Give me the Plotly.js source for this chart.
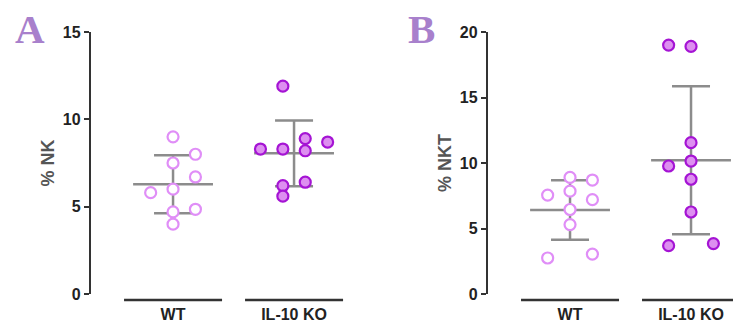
<!DOCTYPE html>
<html>
<head>
<meta charset="utf-8">
<script src="https://cdn.plot.ly/plotly-3.0.1.min.js"></script>
<style>html,body{margin:0;padding:0;background:#fff;}#chart{width:733px;height:326px;}</style>
</head>
<body>
<div id="chart"></div>
<script>
// ---- data ----
var groups = ['WT', 'IL-10 KO'];

// Panel A: % NK
var nkWT = [9.0, 8.0, 7.5, 6.7, 6.0, 5.8, 4.85, 4.7, 4.0];
var nkWTslot = [0, 1, 0, 1, 0, -1, 1, 0, 0];
var nkKO = [11.9, 8.9, 8.7, 8.3, 8.3, 8.2, 6.4, 6.2, 5.6];
var nkKOslot = [-0.5, 0.5, 1.5, -1.5, -0.5, 0.5, 0.5, -0.5, -0.5];

// Panel B: % NKT
var nktWT = [8.9, 8.7, 7.55, 7.85, 7.2, 6.45, 5.3, 3.05, 2.75];
var nktWTslot = [0, 1, -1, 0, 1, 0, 0, 1, -1];
var nktKO = [19.0, 18.9, 11.55, 10.15, 9.77, 8.76, 6.26, 3.69, 3.85];
var nktKOslot = [-1, 0, 0, 0, -1, 0, 0, -1, 1];

var yTicksA = [0, 5, 10, 15];
var yTicksB = [0, 5, 10, 15, 20];

// ---- styling ----
var SLOT = 0.185;
var WT_LINE = '#e08ef7';
var KO_FILL = '#dd8ff0';
var KO_LINE = '#a514d4';
var ERR = '#8c8c8c';
var AX = '#333333';
var FONT = 'Liberation Sans, Arial, sans-serif';

function mean(a){ return a.reduce(function(s,v){return s+v;},0)/a.length; }
function sd(a){ var m=mean(a); return Math.sqrt(a.reduce(function(s,v){return s+(v-m)*(v-m);},0)/(a.length-1)); }

function groupTraces(vals, slots, cat, xa, ya, filled){
  var m = mean(vals), s = sd(vals);
  var tr = [];
  tr.push({x:[cat-0.33, cat+0.33], y:[m, m], xaxis:xa, yaxis:ya, mode:'lines',
    line:{color:ERR, width:2.5}, hoverinfo:'skip', showlegend:false});
  tr.push({x:[cat], y:[m], xaxis:xa, yaxis:ya, mode:'markers', marker:{size:1, opacity:0},
    error_y:{type:'data', array:[s], visible:true, color:ERR, thickness:2.5, width:19},
    hoverinfo:'skip', showlegend:false});
  tr.push({x:slots.map(function(k){return cat + k*SLOT;}), y:vals, xaxis:xa, yaxis:ya, mode:'markers',
    cliponaxis:false, showlegend:false,
    marker:{size:11, color: filled ? KO_FILL : '#ffffff', line:{color: filled ? KO_LINE : WT_LINE, width:2.2}}});
  return tr;
}

var data = [].concat(
  groupTraces(nkWT, nkWTslot, 0, 'x', 'y', false),
  groupTraces(nkKO, nkKOslot, 1, 'x', 'y', true),
  groupTraces(nktWT, nktWTslot, 0, 'x2', 'y2', false),
  groupTraces(nktKO, nktKOslot, 1, 'x2', 'y2', true)
);

var W = 733, H = 326;
var yBot = 1 - 294/H, yTop = 1 - 32/H;

function xAxis(dom, rng){
  return {domain:dom, range:rng, showline:false, zeroline:false, showgrid:false,
    tickmode:'array', tickvals:[0,1], ticktext:groups, ticks:'outside', ticklen:0,
    tickcolor:'rgba(0,0,0,0)', ticklabelstandoff:6,
    tickfont:{family:FONT, size:16, color:'#222', weight:'bold'}, fixedrange:true};
}
function yAxis(dom, rng, tv, title, anchor){
  return {domain:dom, range:rng, anchor:anchor, showline:true, linecolor:AX, linewidth:2.2,
    zeroline:false, showgrid:false, tickmode:'array', tickvals:tv, ticks:'outside', ticklen:5,
    tickwidth:2, tickcolor:AX, tickfont:{family:FONT, size:16, color:'#222', weight:'bold'},
    title:{text:title, font:{family:FONT, size:18, color:'#555', weight:'bold'}, standoff:4},
    fixedrange:true};
}

var lineY = 1 - 300/H;
function catLine(xref, c){
  return {type:'line', xref:xref, yref:'paper', x0:c-0.405, x1:c+0.405, y0:lineY, y1:lineY,
    line:{color:AX, width:2.5}};
}

var layout = {
  width:W, height:H, margin:{l:0, r:0, t:0, b:0}, paper_bgcolor:'#fff', plot_bgcolor:'#fff',
  showlegend:false,
  xaxis: xAxis([91/W, 360/W], [-0.678, 1.545]),
  yaxis: yAxis([yBot, yTop], [0, 15], yTicksA, '% NK', 'x'),
  xaxis2: xAxis([488/W, 1], [-0.678, 1.347]),
  yaxis2: yAxis([yBot, yTop], [0, 20], yTicksB, '% NKT', 'x2'),
  shapes:[catLine('x',0), catLine('x',1), catLine('x2',0), catLine('x2',1)],
  annotations:[
    {text:'A', xref:'paper', yref:'paper', x:30/W, y:1-29/H, xanchor:'center', yanchor:'middle', showarrow:false,
     font:{family:'Liberation Serif, Times New Roman, serif', size:41, color:'#a880cc', weight:'bold'}},
    {text:'B', xref:'paper', yref:'paper', x:421/W, y:1-29/H, xanchor:'center', yanchor:'middle', showarrow:false,
     font:{family:'Liberation Serif, Times New Roman, serif', size:41, color:'#a880cc', weight:'bold'}}
  ]
};

Plotly.newPlot('chart', data, layout, {displayModeBar:false, staticPlot:true});
</script>
</body>
</html>
